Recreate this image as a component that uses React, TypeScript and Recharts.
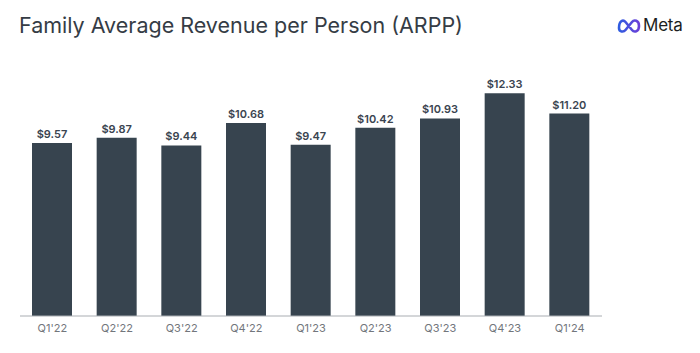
import { Bar, BarChart, LabelList, XAxis, YAxis } from 'recharts';

const quarters = ["Q1'22", "Q2'22", "Q3'22", "Q4'22", "Q1'23", "Q2'23", "Q3'23", "Q4'23", "Q1'24"];
const arpp = [9.57, 9.87, 9.44, 10.68, 9.47, 10.42, 10.93, 12.33, 11.2];

const data = quarters.map((q, i) => ({ name: q, value: arpp[i] }));

function MetaLogo() {
  return (
    <div style={{ position: 'absolute', left: 616, top: 15, display: 'flex', alignItems: 'center' }}>
      <svg width="26" height="16" viewBox="0 0 26 16">
        <defs>
          <linearGradient id="metaGrad" x1="0" y1="0" x2="1" y2="0">
            <stop offset="0%" stopColor="#2f5ce0" />
            <stop offset="100%" stopColor="#6a3fd8" />
          </linearGradient>
        </defs>
        <path
          d="M3 11 C3 4, 7 2, 9.5 5 L16 13 C18 15.5, 23 15, 23 9 C23 3, 18 2.5, 16 5 L9.5 13 C7.5 15.5, 3 15, 3 11 Z"
          fill="none"
          stroke="url(#metaGrad)"
          strokeWidth="2.6"
          strokeLinejoin="round"
        />
      </svg>
      <span style={{ fontFamily: 'Inter, sans-serif', fontSize: 17, color: '#1c1e21', marginLeft: 1, letterSpacing: -0.2 }}>
        Meta
      </span>
    </div>
  );
}

export default function App() {
  return (
    <div style={{ position: 'absolute', left: 0, top: 0, width: 700, height: 353, background: '#fff', fontFamily: 'Inter, sans-serif' }}>
      <div style={{ position: 'absolute', left: 19, top: 12, fontSize: 21.5, color: '#353c45', fontWeight: 400 }}>
        Family Average Revenue per Person (ARPP)
      </div>
      <MetaLogo />
      <BarChart width={700} height={353} data={data} margin={{ top: 63, right: 98, left: 20, bottom: 7 }}>
        <XAxis
          dataKey="name"
          height={30}
          tick={{ fill: '#72767c', fontSize: 11 }}
          tickLine={false}
          axisLine={{ stroke: '#a9adb2' }}
        />
        <YAxis hide domain={[0, 14]} />
        <Bar dataKey="value" fill="#37444f" barSize={40} isAnimationActive={false}>
          <LabelList
            dataKey="value"
            position="top"
            formatter={(v: number) => `$${v.toFixed(2)}`}
            style={{ fill: '#3a4450', fontSize: 11, fontWeight: 600 }}
          />
        </Bar>
      </BarChart>
    </div>
  );
}
